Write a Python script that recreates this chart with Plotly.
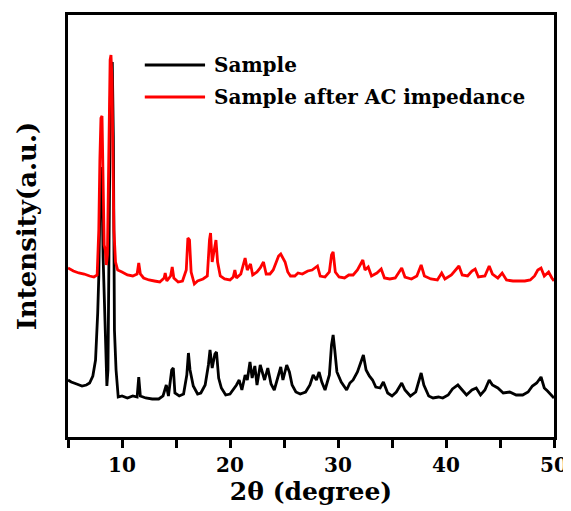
import plotly.graph_objects as go

# 2theta (degree) and intensity (a.u.), red trace already offset upwards
two_theta_sample = [
    5.0, 5.3, 5.8, 6.3, 6.7, 7.0, 7.3, 7.55, 7.75, 7.85, 7.95, 8.05, 8.15, 8.25, 8.45,
    8.6, 8.7, 8.82, 8.92, 9.02, 9.1, 9.2, 9.3, 9.45, 9.65, 10.0, 10.5, 11.0, 11.4,
    11.55, 11.7, 12.2, 12.8, 13.4, 13.8, 14.1, 14.3, 14.6, 14.75, 14.9, 15.3, 15.7,
    16.0, 16.15, 16.3, 16.6, 17.0, 17.3, 17.7, 18.0, 18.15, 18.35, 18.6, 18.75, 18.95,
    19.2, 19.6, 20.0, 20.3, 20.6, 20.85, 21.1, 21.4, 21.6, 21.85, 22.05, 22.3, 22.5,
    22.8, 23.0, 23.2, 23.5, 23.8, 24.1, 24.4, 24.7, 24.9, 25.25, 25.5, 25.75, 26.1,
    26.5, 27.0, 27.4, 27.7, 28.0, 28.25, 28.5, 28.8, 29.2, 29.4, 29.55, 29.7, 29.9,
    30.3, 30.8, 31.1, 31.4, 31.8, 32.15, 32.35, 32.6, 32.9, 33.2, 33.5, 33.9, 34.2,
    34.6, 35.0, 35.4, 35.9, 36.2, 36.7, 37.2, 37.5, 37.7, 37.95, 38.4, 38.8, 39.3,
    39.7, 40.2, 40.6, 41.1, 41.5, 41.9, 42.4, 42.8, 43.2, 43.6, 44.0, 44.3, 44.8,
    45.3, 45.9, 46.5, 47.1, 47.6, 48.0, 48.4, 48.8, 49.1, 49.4, 49.7, 50.0,
]
intensity_sample = [
    57, 55, 53, 51, 52, 54, 61, 77, 124, 160, 230, 270, 250, 180, 107,
    51, 67, 240, 340, 367, 375, 300, 107, 67, 40, 41, 39, 41, 40,
    60, 41, 39, 38, 38, 41, 52, 41, 67, 69, 44, 41, 43,
    62, 84, 67, 51, 43, 44, 52, 72, 87, 69, 83, 85, 59,
    49, 42, 43, 47, 52, 57, 47, 62, 57, 75, 59, 71, 52,
    72, 65, 57, 69, 53, 47, 59, 70, 57, 72, 65, 52, 45,
    43, 45, 52, 62, 57, 65, 55, 47, 62, 92, 102, 87, 65,
    55, 47, 54, 57, 65, 77, 82, 67, 61, 57, 50, 49, 55,
    44, 41, 45, 54, 47, 41, 45, 57, 64, 52, 41, 39, 40,
    39, 42, 48, 52, 47, 42, 47, 49, 42, 47, 57, 52, 49,
    44, 45, 42, 42, 45, 51, 54, 60, 49, 46, 43, 39,
]

two_theta_after = [
    5.0, 5.5, 6.0, 6.5, 7.0, 7.4, 7.7, 7.85, 7.95, 8.05, 8.15, 8.25, 8.35, 8.45, 8.55,
    8.65, 8.8, 8.9, 8.98, 9.08, 9.15, 9.25, 9.4, 9.6, 10.0, 10.5, 11.0, 11.4, 11.55,
    11.7, 12.0, 12.5, 13.0, 13.5, 13.9, 14.0, 14.15, 14.5, 14.65, 14.8, 15.2, 15.6,
    15.95, 16.1, 16.25, 16.4, 16.7, 17.0, 17.5, 17.9, 18.1, 18.2, 18.35, 18.55, 18.7,
    18.85, 19.1, 19.5, 20.0, 20.3, 20.45, 20.6, 21.0, 21.2, 21.4, 21.6, 21.9, 22.1,
    22.5, 22.8, 23.1, 23.35, 23.7, 24.0, 24.3, 24.5, 24.7, 24.9, 25.1, 25.35, 25.6,
    26.0, 26.3, 26.7, 27.2, 27.6, 27.9, 28.1, 28.35, 28.8, 29.2, 29.4, 29.55, 29.75,
    30.1, 30.6, 31.0, 31.4, 31.8, 32.1, 32.3, 32.5, 32.8, 33.1, 33.6, 34.0, 34.3,
    34.8, 35.3, 35.9, 36.2, 36.8, 37.3, 37.7, 38.0, 38.6, 39.2, 39.6, 39.9, 40.5,
    40.9, 41.2, 41.5, 42.0, 42.4, 42.7, 43.0, 43.6, 44.0, 44.3, 44.8, 45.2, 45.6,
    46.2, 46.8, 47.3, 47.8, 48.2, 48.5, 48.8, 49.1, 49.5, 49.8, 50.0,
]
intensity_after = [
    169, 166, 164, 163, 161, 160, 162, 207, 277, 319, 321, 247, 192, 187, 172,
    182, 317, 377, 382, 357, 287, 207, 175, 167, 165, 162, 161, 163, 174,
    163, 159, 157, 156, 155, 159, 164, 156, 161, 170, 159, 155, 156,
    167, 199, 197, 165, 153, 156, 158, 161, 197, 204, 175, 187, 197,
    175, 161, 158, 157, 160, 167, 159, 163, 171, 179, 167, 173, 162,
    165, 169, 175, 163, 163, 167, 175, 181, 183, 179, 175, 165, 161,
    161, 164, 163, 166, 167, 169, 171, 161, 160, 165, 182, 185, 165,
    160, 159, 162, 162, 167, 173, 177, 167, 170, 161, 164, 168, 159,
    158, 159, 169, 160, 158, 161, 172, 161, 158, 157, 164, 158, 162,
    167, 171, 162, 161, 166, 168, 160, 161, 171, 163, 159, 164, 157,
    156, 156, 156, 157, 161, 167, 169, 161, 165, 159, 156,
]

series_names = ["Sample", "Sample after AC impedance"]
series_colors = ["black", "#ff0000"]

x_ticks = [10, 20, 30, 40, 50]
x_minor_ticks = [5, 15, 25, 35, 45]

serif = "DejaVu Serif, serif"

fig = go.Figure()

fig.add_trace(go.Scatter(
    x=two_theta_sample, y=intensity_sample,
    mode="lines", name=series_names[0],
    line=dict(color=series_colors[0], width=2.8),
))
fig.add_trace(go.Scatter(
    x=two_theta_after, y=intensity_after,
    mode="lines", name=series_names[1],
    line=dict(color=series_colors[1], width=2.8),
))

# hand-made legend: plotly's legend line sample is too short
legend_y = [0.8815, 0.8057]
for name, color, ly in zip(series_names, series_colors, legend_y):
    fig.add_shape(type="line", xref="paper", yref="paper",
                  x0=0.158, x1=0.282, y0=ly, y1=ly,
                  line=dict(color=color, width=3))
    fig.add_annotation(xref="paper", yref="paper", x=0.296, y=ly,
                       xanchor="left", yanchor="middle", showarrow=False,
                       text=name,
                       font=dict(family=serif, size=20, color="black", weight="bold"))

fig.update_xaxes(
    range=[5, 50],
    tickvals=x_ticks,
    ticks="outside", ticklen=8, tickwidth=2.5, tickcolor="black",
    minor=dict(tickvals=x_minor_ticks, ticks="outside", ticklen=8,
               tickwidth=2.5, tickcolor="black"),
    showline=True, linewidth=3, linecolor="black", mirror=True,
    showgrid=False, zeroline=False,
    tickfont=dict(family=serif, size=20, color="black", weight="bold"),
    title=dict(text="2θ (degree)", standoff=6,
               font=dict(family=serif, size=25, color="black", weight="bold")),
)
fig.update_yaxes(
    range=[0, 422],
    showticklabels=False, ticks="",
    showline=True, linewidth=3, linecolor="black", mirror=True,
    showgrid=False, zeroline=False,
    title=dict(text="Intensity(a.u.)", standoff=21,
               font=dict(family=serif, size=26, color="black", weight="bold")),
)

# page body adds an 8px offset, so the figure is 8px smaller than the window
fig.update_layout(
    width=563, height=503,
    margin=dict(l=60, r=17, t=7, b=74, autoexpand=False),
    plot_bgcolor="white", paper_bgcolor="white",
    showlegend=False,
)

fig.write_html("out.html")
